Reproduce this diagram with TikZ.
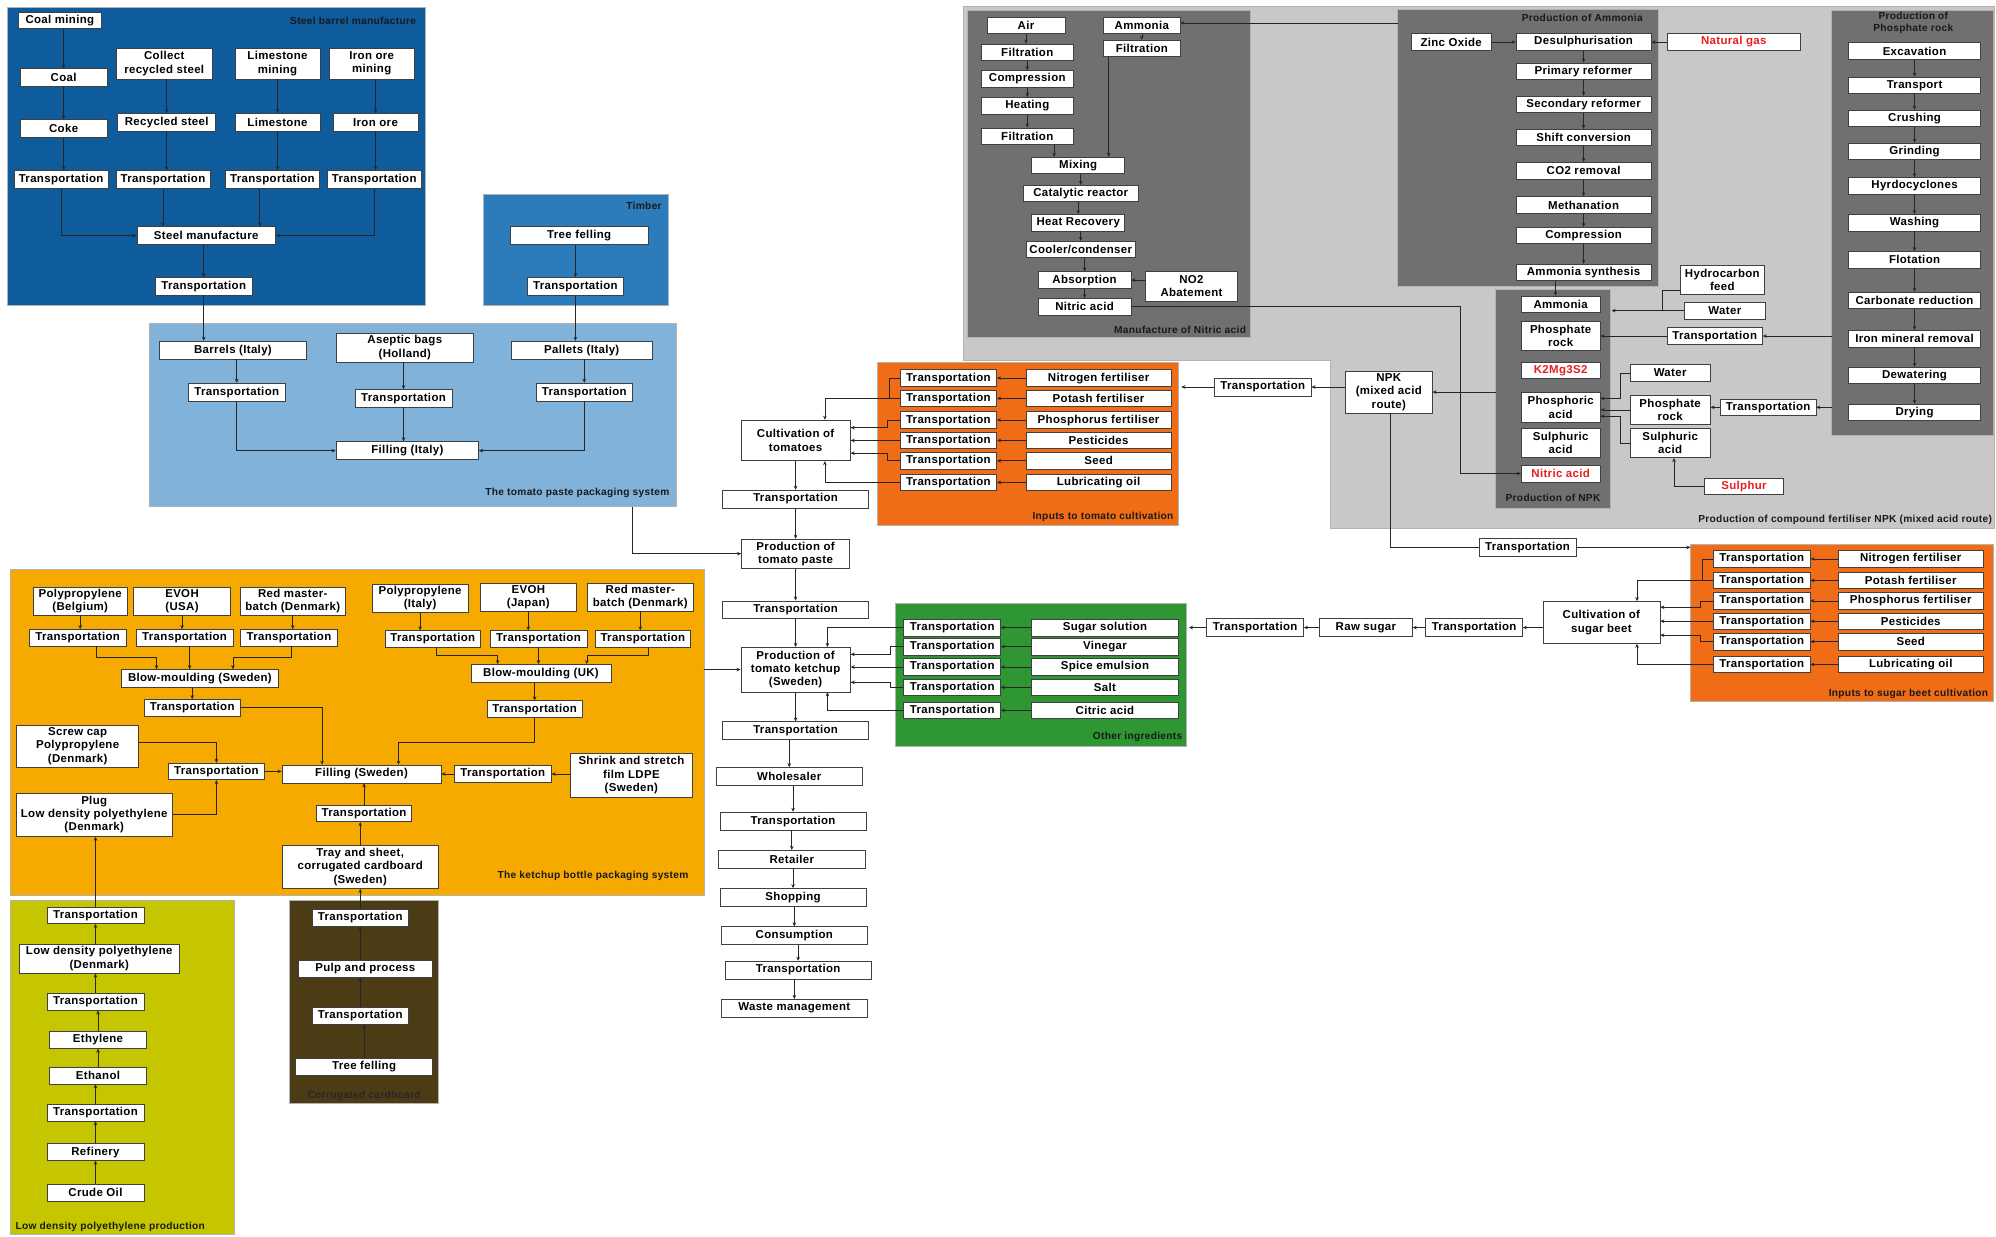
\documentclass[tikz,border=0pt]{standalone}
\usepackage{fontspec}
\setmainfont{Liberation Sans}
\newfontfamily\bxf[LetterSpace=3]{Liberation Sans}
\usetikzlibrary{arrows.meta}
\definecolor{steelc}{RGB}{14,92,156}
\definecolor{timberc}{RGB}{44,124,188}
\definecolor{pastec}{RGB}{128,178,218}
\definecolor{ketchc}{RGB}{246,170,0}
\definecolor{ldpec}{RGB}{198,198,0}
\definecolor{corrc}{RGB}{76,60,22}
\definecolor{inputc}{RGB}{241,108,22}
\definecolor{greenc}{RGB}{46,150,50}
\definecolor{lgrayc}{RGB}{200,200,200}
\definecolor{dgrayc}{RGB}{112,112,112}
\definecolor{redt}{RGB}{232,30,30}
\tikzset{
 box/.style={draw=black!75, line width=0.5pt, fill=white, inner sep=1pt, align=center, font=\bxf\bfseries\fontsize{9}{10.4}\selectfont},
 redtext/.style={text=redt},
 grp/.style={draw=black!30, line width=0.6pt},
 arr/.style={draw=black!85, line width=0.5pt, -{Stealth[length=3.2pt,width=2.8pt]}},
 ln/.style={draw=black!85, line width=0.5pt},
 ttl/.style={font=\bxf\bfseries\fontsize{8}{9.2}\selectfont, inner sep=0pt, align=center, text=black!90},
}
\newcommand\nd[6][]{\node[box,minimum width=#4,minimum height=#5,#1] (#2) at (#3) {#6};}
\newcommand\vdn[2]{\draw[arr] (#1.south) -- (#1.south |- #2.north);}
\newcommand\vup[2]{\draw[arr] (#1.north) -- (#1.north |- #2.south);}
\begin{document}
\begin{tikzpicture}[x=1pt,y=-1pt]
\fill[white] (0,0) rectangle (1568,971);
\useasboundingbox (0,0) rectangle (1568,971);
% ---------- groups ----------
\filldraw[grp,fill=lgrayc] (757,5) -- (1567,5) -- (1567,415) -- (1045,415) -- (1045,283) -- (757,283) -- cycle;
\filldraw[grp,fill=steelc] (6,6) rectangle (334,240);
\filldraw[grp,fill=timberc] (380,153) rectangle (525,240);
\filldraw[grp,fill=pastec] (117,254) rectangle (531,398);
\filldraw[grp,fill=dgrayc] (760,8) rectangle (982,265);
\filldraw[grp,fill=dgrayc] (1098,7) rectangle (1303,225);
\filldraw[grp,fill=dgrayc] (1439,8) rectangle (1566,342);
\filldraw[grp,fill=dgrayc] (1175,227) rectangle (1265,399);
\filldraw[grp,fill=inputc] (689,285) rectangle (926,413);
\filldraw[grp,fill=greenc] (703,474) rectangle (932,586);
\filldraw[grp,fill=inputc] (1328,428) rectangle (1566,551);
\filldraw[grp,fill=ketchc] (8,447) rectangle (553,703);
\filldraw[grp,fill=ldpec] (8,707) rectangle (184,970);
\filldraw[grp,fill=corrc] (227,707) rectangle (344,867);
% ---------- titles ----------
\node[ttl,anchor=east] (ti1) at (327,16) {Steel barrel manufacture};
\node[ttl,anchor=east] (ti2) at (520,162) {Timber};
\node[ttl,anchor=east] (ti3) at (526,387) {The tomato paste packaging system};
\node[ttl,anchor=east] (ti4) at (979,259) {Manufacture of Nitric acid};
\node[ttl] (ti5) at (1243,14) {Production of Ammonia};
\node[ttl] (ti6) at (1503,18) {Production of\\Phosphate rock};
\node[ttl] (ti7) at (1220,391) {Production of NPK};
\node[ttl,anchor=east] (ti8) at (1565,408) {Production of compound fertiliser NPK (mixed acid route)};
\node[ttl,anchor=east] (ti9) at (922,406) {Inputs to tomato cultivation};
\node[ttl,anchor=east] (ti10) at (929,579) {Other ingredients};
\node[ttl,anchor=east] (ti11) at (1562,545) {Inputs to sugar beet cultivation};
\node[ttl,anchor=east] (ti12) at (541,688) {The ketchup bottle packaging system};
\node[ttl,anchor=west] (ti13) at (12,964) {Low density polyethylene production};
\node[ttl,text=black!85] (ti14) at (286,861) {Corrugated cardboard};
% ---------- steel ----------
\nd{coalm}{47,16}{65}{13}{Coal mining}
\nd{coal}{50,61}{68}{14}{Coal}
\nd{collect}{129,50}{76}{24}{Collect\\recycled steel}
\nd{limem}{218,50}{67}{24}{Limestone\\mining}
\nd{ironm}{292,50}{67}{24}{Iron ore\\mining}
\nd{coke}{50,101}{68}{14}{Coke}
\nd{recyc}{131,96}{77}{14}{Recycled steel}
\nd{lime}{218,96}{67}{14}{Limestone}
\nd{iron}{295,96}{67}{14}{Iron ore}
\nd{st1}{48,141}{74}{14}{Transportation}
\nd{st2}{128,141}{74}{14}{Transportation}
\nd{st3}{214,141}{74}{14}{Transportation}
\nd{st4}{294,141}{74}{14}{Transportation}
\nd{steelm}{162,185}{109}{14}{Steel manufacture}
\nd{stT}{160,225}{76}{14}{Transportation}
% ---------- timber ----------
\nd{tree}{455,185}{108}{14}{Tree felling}
\nd{timT}{452,225}{76}{14}{Transportation}
% ---------- tomato paste packaging ----------
\nd{barrels}{183,275}{115}{14}{Barrels (Italy)}
\nd{aseptic}{318,273}{108}{23}{Aseptic bags\\(Holland)}
\nd{pallets}{457,275}{111}{14}{Pallets (Italy)}
\nd{tpL}{186,308}{76}{14}{Transportation}
\nd{tpM}{317,313}{76}{14}{Transportation}
\nd{tpR}{459,308}{76}{14}{Transportation}
\nd{fillI}{320,354}{112}{14}{Filling (Italy)}
% ---------- main chain ----------
\nd{cult}{625,346}{86}{32}{Cultivation of\\tomatoes}
\nd{c1}{625,392}{115}{14}{Transportation}
\nd{paste}{625,435}{85}{23}{Production of\\tomato paste}
\nd{c2}{625,479}{115}{14}{Transportation}
\nd{ketchup}{625,526}{86}{35}{Production of\\tomato ketchup\\(Sweden)}
\nd{c3}{625,574}{115}{14}{Transportation}
\nd{whole}{620,610}{115}{14}{Wholesaler}
\nd{c4}{623,645}{115}{14}{Transportation}
\nd{retail}{622,675}{115}{14}{Retailer}
\nd{shop}{623,705}{115}{14}{Shopping}
\nd{cons}{624,735}{115}{14}{Consumption}
\nd{c5}{627,762}{115}{14}{Transportation}
\nd{waste}{624,792}{115}{14}{Waste management}
% ---------- inputs to tomato cultivation ----------
\foreach \i/\y/\t in {1/297/Nitrogen fertiliser,2/313/Potash fertiliser,3/330/Phosphorus fertiliser,4/346/Pesticides,5/362/Seed,6/379/Lubricating oil}{
 \nd{tT\i}{745,\y}{76}{13}{Transportation}
 \nd{tI\i}{863,\y}{114}{13}{\t}
}
\nd{tNPK}{992,304}{76}{14}{Transportation}
% ---------- other ingredients ----------
\foreach \i/\y/\t in {1/493/Sugar solution,2/508/Vinegar,3/524/Spice emulsion,4/540/Salt,5/558/Citric acid}{
 \nd{gT\i}{748,\y}{76}{13}{Transportation}
 \nd{gI\i}{868,\y}{115}{13}{\t}
}
\nd{gS}{986,493}{76}{14}{Transportation}
\nd{raw}{1073,493}{73}{14}{Raw sugar}
\nd{sT}{1158,493}{76}{14}{Transportation}
\nd{scult}{1258,489}{92}{33}{Cultivation of\\sugar beet}
% ---------- inputs to sugar beet ----------
\foreach \i/\y/\t in {1/439/Nitrogen fertiliser,2/456/Potash fertiliser,3/472/Phosphorus fertiliser,4/488/Pesticides,5/504/Seed,6/522/Lubricating oil}{
 \nd{bT\i}{1384,\y}{76}{13}{Transportation}
 \nd{bI\i}{1501,\y}{114}{13}{\t}
}
\nd{tS2}{1200,430}{76}{14}{Transportation}
% ---------- nitric acid ----------
\nd{air}{806,20}{61}{13}{Air}
\nd{amm1}{897,20}{60}{13}{Ammonia}
\nd{filL1}{807,41}{72}{13}{Filtration}
\nd{filR}{897,38}{60}{13}{Filtration}
\nd{comp1}{807,62}{72}{13}{Compression}
\nd{heat}{807,83}{72}{13}{Heating}
\nd{filL2}{807,107}{72}{13}{Filtration}
\nd{mix}{847,130}{73}{13}{Mixing}
\nd{cat}{849,152}{91}{13}{Catalytic reactor}
\nd{heatrec}{847,175}{73}{13}{Heat Recovery}
\nd{cool}{849,196}{86}{13}{Cooler/condenser}
\nd{absorb}{852,220}{73}{13}{Absorption}
\nd{notwo}{936,225}{72}{24}{NO2\\Abatement}
\nd{nitric1}{852,241}{73}{13}{Nitric acid}
% ---------- ammonia ----------
\nd{zinc}{1140,33}{63}{13}{Zinc Oxide}
\nd{desul}{1244,33}{106}{13}{Desulphurisation}
\nd[redtext]{natgas}{1362,33}{104}{13}{Natural gas}
\nd{prim}{1244,56}{106}{13}{Primary reformer}
\nd{secr}{1244,82}{106}{13}{Secondary reformer}
\nd{shiftc}{1244,108}{106}{13}{Shift conversion}
\nd{cotwo}{1244,134}{106}{13}{CO2 removal}
\nd{meth}{1244,161}{106}{13}{Methanation}
\nd{comp2}{1244,185}{106}{13}{Compression}
\nd{ammsyn}{1244,214}{106}{13}{Ammonia synthesis}
% ---------- phosphate rock ----------
\foreach \n/\y/\t in {exc/40/Excavation,trn/67/Transport,crush/93/Crushing,grind/119/Grinding,hyd/146/Hyrdocyclones,wash/175/Washing,flot/204/Flotation,carb/236/Carbonate reduction,ironrem/266/Iron mineral removal,dew/295/Dewatering,dry/324/Drying}{
 \nd{\n}{1504,\y}{104}{13}{\t}
}
% ---------- NPK ----------
\nd{ammNPK}{1226,239}{62}{13}{Ammonia}
\nd{prNPK}{1226,264}{62}{23}{Phosphate\\rock}
\nd[redtext]{ktwo}{1226,291}{62}{13}{K2Mg3S2}
\nd{phos}{1226,320}{62}{23}{Phosphoric\\acid}
\nd{sulph}{1226,348}{62}{23}{Sulphuric\\acid}
\nd[redtext]{nitric2}{1226,372}{62}{13}{Nitric acid}
\nd{hydro}{1353,220}{66}{23}{Hydrocarbon\\feed}
\nd{water1}{1355,244}{63}{13}{Water}
\nd{tP1}{1347,264}{75}{13}{Transportation}
\nd{water2}{1312,293}{63}{13}{Water}
\nd{prock2}{1312,322}{63}{23}{Phosphate\\rock}
\nd{sulph2}{1312,348}{63}{23}{Sulphuric\\acid}
\nd{tP2}{1389,320}{75}{13}{Transportation}
\nd[redtext]{sulphur}{1370,382}{62}{13}{Sulphur}
\nd{npk}{1091,308}{68}{33}{NPK\\(mixed acid\\route)}
% ---------- ketchup bottle packaging ----------
\nd{pp1}{63,472}{74}{22}{Polypropylene\\(Belgium)}
\nd{evoh1}{143,472}{76}{22}{EVOH\\(USA)}
\nd{rmb1}{230,472}{83}{22}{Red master-\\batch (Denmark)}
\nd{kT1}{61,501}{76}{13}{Transportation}
\nd{kT2}{145,501}{76}{13}{Transportation}
\nd{kT3}{227,501}{76}{13}{Transportation}
\nd{bms}{157,533}{124}{14}{Blow-moulding (Sweden)}
\nd{kT4}{151,556}{75}{13}{Transportation}
\nd{pp2}{330,470}{75}{22}{Polypropylene\\(Italy)}
\nd{evoh2}{415,469}{75}{22}{EVOH\\(Japan)}
\nd{rmb2}{503,469}{83}{22}{Red master-\\batch (Denmark)}
\nd{kT5}{340,502}{74}{13}{Transportation}
\nd{kT6}{423,502}{76}{13}{Transportation}
\nd{kT7}{505,502}{75}{13}{Transportation}
\nd{bmu}{425,529}{110}{14}{Blow-moulding (UK)}
\nd{kT8}{420,557}{75}{13}{Transportation}
\nd{screw}{61,586}{96}{33}{Screw cap\\Polypropylene\\(Denmark)}
\nd{kT9}{170,606}{75}{13}{Transportation}
\nd{fillS}{284,608}{125}{14}{Filling (Sweden)}
\nd{kT10}{395,608}{76}{13}{Transportation}
\nd{shrink}{496,609}{96}{34}{Shrink and stretch\\film LDPE\\(Sweden)}
\nd{plug}{74,640}{123}{34}{Plug\\Low density polyethylene\\(Denmark)}
\nd{kT11}{286,639}{75}{13}{Transportation}
\nd{tray}{283,681}{123}{34}{Tray and sheet,\\corrugated cardboard\\(Sweden)}
% ---------- LDPE ----------
\nd{lT1}{75,719}{76}{13}{Transportation}
\nd{ldpe}{78,753}{125}{23}{Low density polyethylene\\(Denmark)}
\nd{lT2}{75,787}{76}{13}{Transportation}
\nd{ethyl}{77,817}{76}{13}{Ethylene}
\nd{ethan}{77,845}{76}{13}{Ethanol}
\nd{lT3}{75,874}{76}{13}{Transportation}
\nd{refin}{75,905}{76}{13}{Refinery}
\nd{crude}{75,937}{76}{13}{Crude Oil}
% ---------- corrugated ----------
\nd{cT1}{283,721}{75}{13}{Transportation}
\nd{pulp}{287,761}{105}{13}{Pulp and process}
\nd{cT2}{283,798}{75}{13}{Transportation}
\nd{ctree}{286,838}{108}{13}{Tree felling}
% ---------- coordinates ----------
\coordinate (pasteout) at (497,398);
\coordinate (tomin) at (928,304);
\coordinate (grnin) at (934,493);
\coordinate (sugin) at (1328,430);
\coordinate (ammsrc) at (1098,18);
\coordinate (nbus) at (1147,0);
\coordinate (hjoin) at (1306,244);
\coordinate (npkin) at (1266,244);
\coordinate (phs1) at (1439,264);
\coordinate (phs2) at (1439,320);
\coordinate (npkout) at (1175,308);
\coordinate (kpout) at (553,526);
\coordinate (tbr) at (699,313);
\coordinate (bbr) at (1337,456);
% ---------- edges: steel ----------
\draw[arr] (coal.north |- coalm.south) -- (coal.north);
\vdn{coal}{coke}
\vdn{coke}{st1}
\draw[arr] (recyc.north |- collect.south) -- (recyc.north);
\vdn{recyc}{st2}
\vdn{limem}{lime}
\vdn{lime}{st3}
\draw[arr] (iron.north |- ironm.south) -- (iron.north);
\vdn{iron}{st4}
\draw[arr] (st1.south) |- (steelm.west);
\draw[arr] (st4.south) |- (steelm.east);
\vdn{st2}{steelm}
\draw[arr] ([xshift=-10]st3.south) -- ([xshift=-10]st3.south |- steelm.north);
\draw[arr] (stT.north |- steelm.south) -- (stT.north);
\vdn{stT}{barrels}
\draw[arr] (timT.north |- tree.south) -- (timT.north);
\vdn{timT}{pallets}
% ---------- edges: paste packaging ----------
\draw[arr] (tpL.north |- barrels.south) -- (tpL.north);
\draw[arr] (tpM.north |- aseptic.south) -- (tpM.north);
\draw[arr] (tpR.north |- pallets.south) -- (tpR.north);
\draw[arr] (tpL.south) |- (fillI.west);
\vdn{tpM}{fillI}
\draw[arr] (tpR.south) |- (fillI.east);
\draw[arr] (pasteout) |- (paste.west);
% ---------- edges: main chain ----------
\vdn{cult}{c1}
\vdn{c1}{paste}
\vdn{paste}{c2}
\vdn{c2}{ketchup}
\vdn{ketchup}{c3}
\draw[arr] (whole.north |- c3.south) -- (whole.north);
\draw[arr] (c4.north |- whole.south) -- (c4.north);
\draw[arr] (retail.north |- c4.south) -- (retail.north);
\draw[arr] (shop.north |- retail.south) -- (shop.north);
\draw[arr] (cons.north |- shop.south) -- (cons.north);
\draw[arr] (c5.north |- cons.south) -- (c5.north);
\draw[arr] (waste.north |- c5.south) -- (waste.north);
% ---------- edges: tomato inputs ----------
\foreach \i in {1,...,6}{\draw[arr] (tI\i.west) -- (tT\i.east);}
\draw[ln] (tT1.west) -| (tbr);
\draw[arr] (tT2.west) -| ([xshift=23]cult.north);
\draw[arr] (tT3.west) -- ++(-10,0) |- ([yshift=10]cult.east);
\draw[arr] (tT4.west) -- (tT4.west -| cult.east);
\draw[arr] (tT5.west) -- ++(-10,0) |- ([yshift=-10]cult.east);
\draw[arr] (tT6.west) -| ([xshift=23]cult.south);
\draw[arr] (tNPK.west) -- (tomin);
\draw[arr] (npk.west |- tNPK.east) -- (tNPK.east);
% ---------- edges: other ingredients ----------
\foreach \i in {1,...,5}{\draw[arr] (gI\i.west) -- (gT\i.east);}
\draw[arr] (gT1.west) -| ([xshift=25]ketchup.north);
\draw[arr] (gT2.west) -- ++(-10,0) |- ([yshift=12]ketchup.east);
\draw[arr] (gT3.west) -- (gT3.west -| ketchup.east);
\draw[arr] (gT4.west) -- ++(-10,0) |- ([yshift=-10]ketchup.east);
\draw[arr] (gT5.west) -| ([xshift=25]ketchup.south);
\draw[arr] (gS.west) -- (grnin);
\draw[arr] (raw.west) -- (gS.east);
\draw[arr] (sT.west) -- (raw.east);
\draw[arr] (scult.west |- sT.east) -- (sT.east);
% ---------- edges: sugar beet inputs ----------
\foreach \i in {1,...,6}{\draw[arr] (bI\i.west) -- (bT\i.east);}
\draw[ln] (bT1.west) -| (bbr);
\draw[arr] (bT2.west) -| ([xshift=28]scult.north);
\draw[arr] (bT3.west) -- ++(-10,0) |- ([yshift=12]scult.east);
\draw[arr] (bT4.west) -- (bT4.west -| scult.east);
\draw[arr] (bT5.west) -- ++(-10,0) |- ([yshift=-10]scult.east);
\draw[arr] (bT6.west) -| ([xshift=28]scult.south);
\draw[ln] ([xshift=1]npk.south) |- (tS2.west);
\draw[arr] (tS2.east) -- (sugin);
% ---------- edges: nitric acid ----------
\draw[arr] (air.south) -- (air.south |- filL1.north);
\vdn{filL1}{comp1}
\vdn{comp1}{heat}
\vdn{heat}{filL2}
\draw[arr] ([xshift=21]filL2.south) -- ([xshift=21]filL2.south |- mix.north);
\vdn{amm1}{filR}
\draw[arr] ([xshift=-26]filR.south) -- ([xshift=-26]filR.south |- mix.north);
\draw[arr] (cat.north |- mix.south) -- (cat.north);
\draw[arr] (heatrec.north |- cat.south) -- (heatrec.north);
\draw[arr] (cool.north |- heatrec.south) -- (cool.north);
\draw[arr] (absorb.north |- cool.south) -- (absorb.north);
\vdn{absorb}{nitric1}
\draw[arr] (notwo.west |- absorb.east) -- (absorb.east);
\draw[arr] (ammsrc) -- (ammsrc -| amm1.east);
\draw[arr] (nitric1.east) -- (nitric1.east -| nbus) |- (nitric2.west);
% ---------- edges: ammonia ----------
\draw[arr] (zinc.east) -- (desul.west);
\draw[arr] (natgas.west) -- (desul.east);
\vdn{desul}{prim}
\vdn{prim}{secr}
\vdn{secr}{shiftc}
\vdn{shiftc}{cotwo}
\vdn{cotwo}{meth}
\vdn{meth}{comp2}
\vdn{comp2}{ammsyn}
\draw[arr] ([xshift=-22]ammsyn.south) -- ([xshift=-22]ammsyn.south |- ammNPK.north);
% ---------- edges: phosphate rock ----------
\vdn{exc}{trn}
\vdn{trn}{crush}
\vdn{crush}{grind}
\vdn{grind}{hyd}
\vdn{hyd}{wash}
\vdn{wash}{flot}
\vdn{flot}{carb}
\vdn{carb}{ironrem}
\vdn{ironrem}{dew}
\vdn{dew}{dry}
% ---------- edges: NPK ----------
\draw[ln] ([yshift=-8]hydro.west) -| (hjoin);
\draw[arr] (water1.west) -- (npkin);
\draw[arr] (phs1) -- (tP1.east);
\draw[arr] (tP1.west) -- (tP1.west -| prNPK.east);
\draw[arr] (phs2) -- (tP2.east);
\draw[arr] (tP2.west) -- (tP2.west -| prock2.east);
\draw[arr] (water2.west) -- ++(-7,0) |- ([yshift=7]phos.east);
\draw[arr] (prock2.west) -- (prock2.west -| phos.east);
\draw[arr] (sulph2.west) -- ++(-7,0) |- ([yshift=-7]phos.east);
\draw[arr] (sulphur.west) -| ([xshift=3]sulph2.south);
\draw[arr] (npkout) -- (npkout -| npk.east);
% ---------- edges: ketchup packaging ----------
\vdn{pp1}{kT1}
\vdn{evoh1}{kT2}
\vdn{rmb1}{kT3}
\draw[arr] ([xshift=15]kT1.south) -- ++(0,8.5) -| ([xshift=-34]bms.north);
\draw[arr] ([xshift=4]kT2.south) -- ([xshift=4]kT2.south |- bms.north);
\draw[arr] ([xshift=2]kT3.south) -- ++(0,8.5) -| ([xshift=26]bms.north);
\draw[arr] (kT4.north |- bms.south) -- (kT4.north);
\draw[arr] (kT4.east) -| ([xshift=-31]fillS.north);
\vdn{pp2}{kT5}
\vdn{evoh2}{kT6}
\vdn{rmb2}{kT7}
\draw[arr] ([xshift=3]kT5.south) -- ++(0,6) -| ([xshift=-34]bmu.north);
\vdn{kT6}{bmu}
\draw[arr] ([xshift=4]kT7.south) -- ++(0,6) -| ([xshift=36]bmu.north);
\draw[arr] (kT8.north |- bmu.south) -- (kT8.north);
\draw[arr] (kT8.south) -- ++(0,19) -| ([xshift=29]fillS.north);
\draw[arr] (shrink.west |- kT10.east) -- (kT10.east);
\draw[arr] (kT10.west) -- (fillS.east);
\draw[arr] ([yshift=3]screw.east) -| (kT9.north);
\draw[arr] (plug.east) -| (kT9.south);
\draw[arr] (kT9.east) -- (kT9.east -| fillS.west);
\vup{tray}{kT11}
\draw[arr] (kT11.north) -- (kT11.north |- fillS.south);
\draw[arr] (kpout) -- (ketchup.west);
% ---------- edges: LDPE ----------
\vup{crude}{refin}
\vup{refin}{lT3}
\draw[arr] (lT3.north) -- (lT3.north |- ethan.south);
\vup{ethan}{ethyl}
\draw[arr] (ethyl.north) -- (ethyl.north |- lT2.south);
\vup{lT2}{ldpe}
\draw[arr] (lT1.south |- ldpe.north) -- (lT1.south);
\vup{lT1}{plug}
% ---------- edges: corrugated ----------
\vup{ctree}{cT2}
\vup{cT2}{pulp}
\draw[arr] (cT1.south |- pulp.north) -- (cT1.south);
\vup{cT1}{tray}
\end{tikzpicture}
\end{document}
